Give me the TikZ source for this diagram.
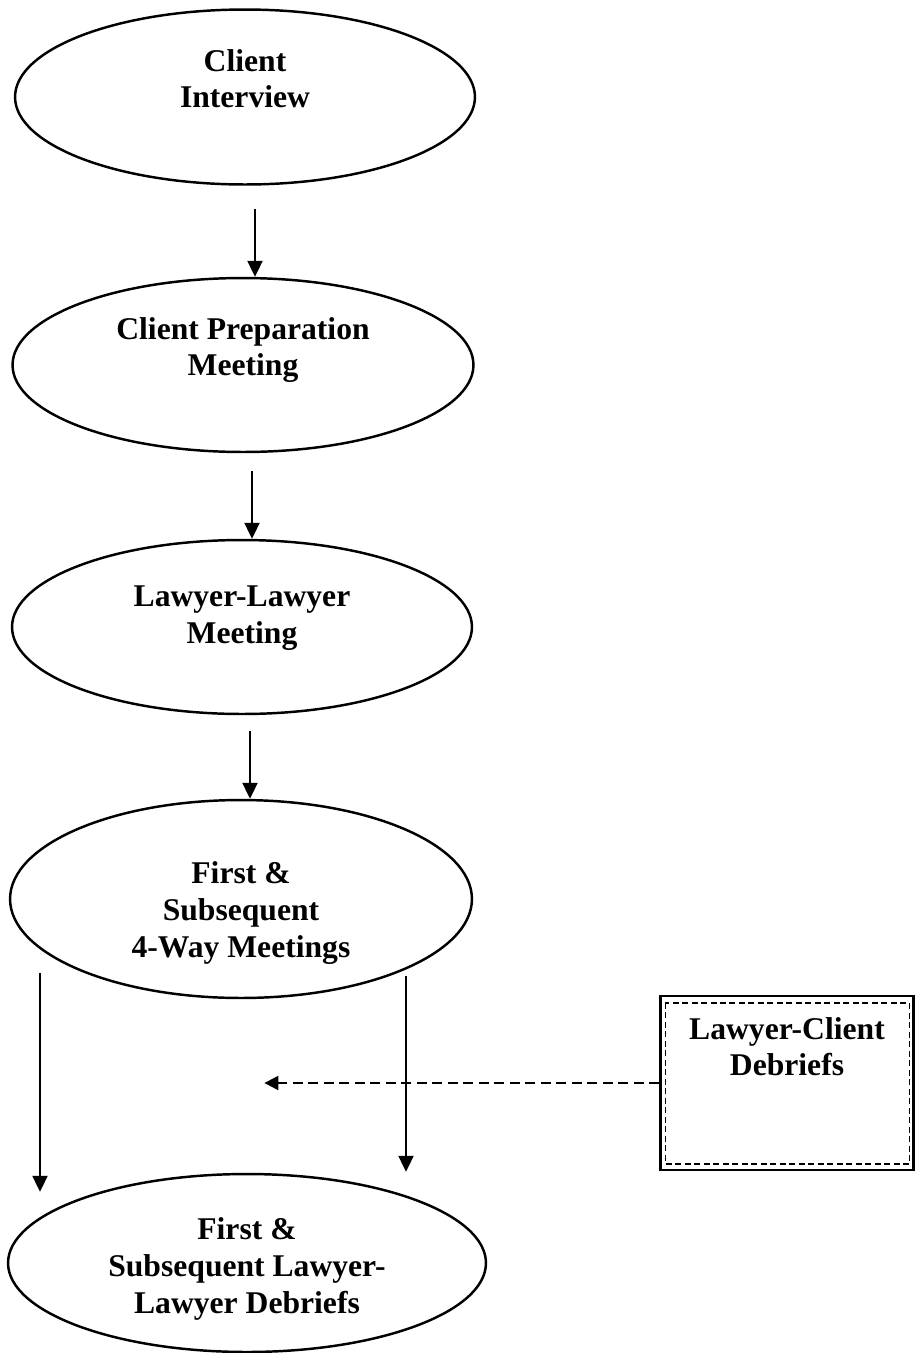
\documentclass[tikz,border=0pt]{standalone}
\usepackage{fontspec}
\setmainfont{Liberation Serif}
\usetikzlibrary{shapes.geometric, arrows.meta, positioning}

\begin{document}
\begin{tikzpicture}[
    x=0.02cm, y=-0.02cm,
    font=\fontsize{18}{21}\selectfont\bfseries,
    stage/.style={ellipse, draw, line width=1.4pt, align=center, inner sep=0pt},
    debrief/.style={rectangle, draw, line width=1.3pt, align=center, minimum width=5.06cm, minimum height=3.48cm},
    arrow/.style={-{Triangle[length=0.32cm, width=0.3cm]}, line width=1.2pt},
    dasharrow/.style={-{Triangle[length=0.28cm, width=0.28cm]}, line width=1.2pt, dash pattern=on 0.2cm off 0.11cm}
]
\useasboundingbox (0,0) rectangle (922,1353);

% Stages
\node[stage, minimum width=9.2cm, minimum height=3.5cm] (ci) at (245,97) {Client\\Interview\\\mbox{}};
\node[stage, minimum width=9.22cm, minimum height=3.48cm] (cp) at (243,365) {Client Preparation\\Meeting\\\mbox{}};
\node[stage, minimum width=9.2cm, minimum height=3.48cm] (lm) at (242,627) {Lawyer-Lawyer\\Meeting\\[-0.24cm]\mbox{}};
\node[stage, minimum width=9.24cm, minimum height=3.96cm] (fm) at (241,899) {\mbox{}\\[0.26cm]First \&\\Subsequent\\4-Way Meetings};
\node[stage, minimum width=9.56cm, minimum height=3.56cm] (ld) at (247,1263) {\mbox{}\\[-0.06cm]First \&\\Subsequent Lawyer-\\Lawyer Debriefs};

% Side box
\node[debrief] (lcd) at (787,1083) {Lawyer-Client\\Debriefs\\[0.72cm]\mbox{}};
\draw[line width=0.9pt, dash pattern=on 0.12cm off 0.07cm] ([shift={(6,8)}]lcd.north west) rectangle ([shift={(-5,-7)}]lcd.south east);

% Arrows
\draw[arrow, shorten <=0.46cm] ([shift={(10,0)}]ci.south) -- ([shift={(10,0)}]ci.south |- cp.north);
\draw[arrow, shorten <=0.36cm] ([shift={(9,0)}]cp.south) -- ([shift={(9,0)}]cp.south |- lm.north);
\draw[arrow, shorten <=0.32cm] ([shift={(8,0)}]lm.south) -- ([shift={(8,0)}]lm.south |- fm.north);

\coordinate (splitL) at ([shift={(-201,-26)}]fm.south);
\coordinate (splitR) at ([shift={(165,-23)}]fm.south);
\coordinate (joinL) at ([shift={(-207,19)}]ld.north);
\coordinate (joinR) at ([shift={(159,-1)}]ld.north);
\draw[arrow] (splitL) -- (joinL);
\draw[arrow] (splitR) -- (joinR);

\coordinate (gap) at ([shift={(-395,0)}]lcd.west);
\draw[dasharrow] (lcd.west) -- (gap);

\end{tikzpicture}
\end{document}
